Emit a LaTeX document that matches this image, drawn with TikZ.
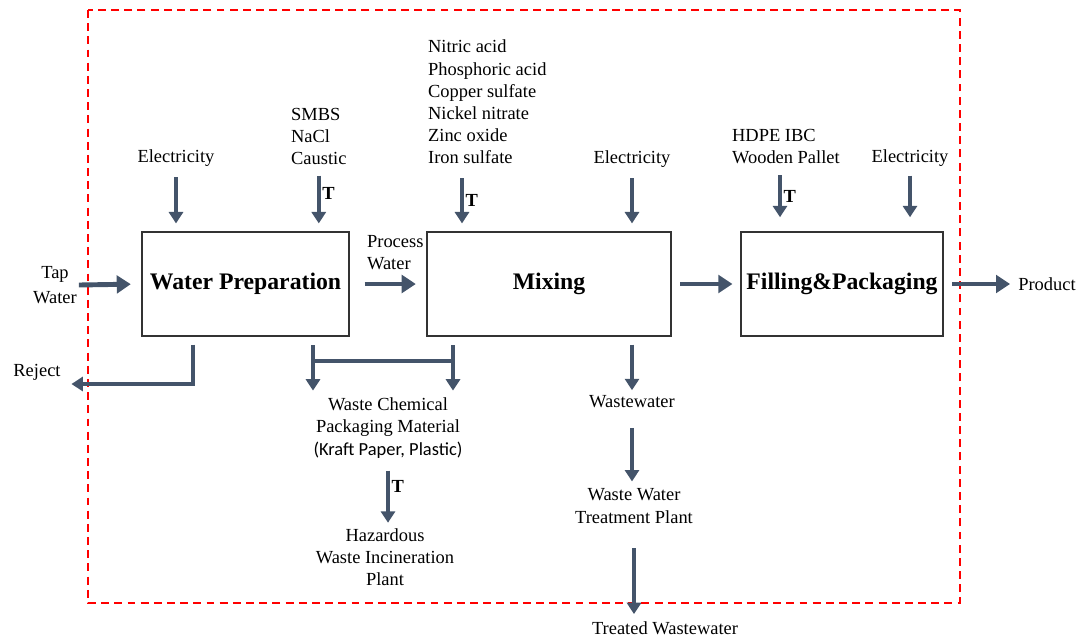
\documentclass[tikz,border=0pt]{standalone}
\usepackage{fontspec}
\setmainfont{Liberation Serif}
\newfontfamily\calfont{Carlito}
\usetikzlibrary{positioning,arrows.meta,calc}
\definecolor{flowgray}{HTML}{44546A}
\definecolor{boundred}{HTML}{FF0000}

\begin{document}
\begin{tikzpicture}[x=0.02cm,y=-0.02cm,font=\fontsize{10.5}{12.6}\selectfont]
% Styles: unit boxes, stream texts and flow arrows
\tikzstyle{unit box}=[draw=black!80,line width=0.8pt,inner sep=1pt,minimum height=2.08cm,font=\bfseries\fontsize{13.5}{16}\selectfont];
\tikzstyle{stream}=[inner sep=1pt,align=center];
\tikzstyle{stream list}=[inner sep=1pt,align=left,anchor=north west];
\tikzstyle{flow}=[draw=flowgray,line width=2pt,-{Triangle[length=6.5pt,width=8pt]}];
\tikzstyle{main flow}=[draw=flowgray,line width=2.8pt,-{Triangle[length=8pt,width=10pt]}];
\tikzstyle{truck}=[right,inner sep=1pt,font=\bfseries\fontsize{10.5}{12}\selectfont];
\useasboundingbox (0,0) rectangle (1081,640);
% System boundary
\draw[boundred,line width=1.1pt,dash pattern=on 4.5pt off 3pt] (88,10) rectangle (960,603);
% The unit processes
\node[unit box,minimum width=4.14cm] (wp) at (245.5,284) {Water Preparation};
\node[unit box,minimum width=4.88cm] (mix) at (549,284) {Mixing};
\node[unit box,minimum width=4.04cm] (fill) at (842,284) {Filling\&Packaging};
% Inputs
\node[stream,align=center,font=\fontsize{10.5}{14}\selectfont] (tap) at (55,285) {Tap\\Water};
\node[stream] (elec1) at (176,158) {Electricity};
\node[stream list] (salts) at (289,106) {SMBS\\NaCl\\Caustic};
\node[stream list] (pwater) at (365,233) {Process\\Water};
\node[stream list] (acids) at (426,38) {Nitric acid\\Phosphoric acid\\Copper sulfate\\Nickel nitrate\\Zinc oxide\\Iron sulfate};
\node[stream] (elec2) at (632,159) {Electricity};
\node[stream list] (pack) at (730,127) {HDPE IBC\\Wooden Pallet};
\node[stream] (elec3) at (910,158) {Electricity};
% Outputs
\node[stream] (product) at (1047,284) {Product};
\node[stream] (reject) at (37,372) {Reject};
\node[stream] (wcp) at (388,428) {Waste Chemical\\Packaging Material\\{\calfont (Kraft Paper, Plastic)}};
\node[stream] (hwip) at (385,557) {Hazardous\\Waste Incineration\\Plant};
\node[stream] (ww) at (632,402) {Wastewater};
\node[stream] (wwtp) at (634,506) {Waste Water\\Treatment Plant};
\node[stream] (tww) at (665,628) {Treated Wastewater};
\coordinate (acidin) at (462,178);
\coordinate (packin) at (780,175);
\coordinate (rejcorner) at (193,384);
\coordinate (barl) at (313,361);
\coordinate (barr) at (453,361);
% Main line
\draw[main flow,shorten >=6pt] (tap.east) -- (wp.west);
\draw[main flow,shorten <=8.5pt,shorten >=6pt] (wp.east) -- (mix.west);
\draw[main flow,shorten <=5pt,shorten >=4.5pt] (mix.east) -- (fill.west);
\draw[main flow,shorten <=5pt,shorten >=3.5pt] (fill.east) -- (product.west);
% Inputs from above
\draw[flow,shorten <=5pt,shorten >=4.5pt] (elec1.south) -- (elec1.south |- wp.north);
\draw[flow,shorten <=5pt,shorten >=4.5pt] (salts.south) -- (salts.south |- wp.north) node[truck,pos=0.42]{T};
\draw[flow,shorten >=4.5pt] (acidin) -- (acidin |- mix.north) node[truck,pos=0.42]{T};
\draw[flow,shorten <=5pt,shorten >=4.5pt] (elec2.south) -- (elec2.south |- mix.north);
\draw[flow,shorten >=8pt] (packin) -- (packin |- fill.north) node[truck,pos=0.38]{T};
\draw[flow,shorten <=4pt,shorten >=8pt] (elec3.south) -- (elec3.south |- fill.north);
% Outputs below
\draw[flow,shorten <=4.5pt,shorten >=5pt] (wp.south -| rejcorner) -- (rejcorner) -- (reject.east |- rejcorner);
\draw[draw=flowgray,line width=2pt] (barl) -- ($(barr)+(2,0)$);
\draw[flow,shorten <=5pt,shorten >=3pt] (wp.south -| barl) -- (barl |- wcp.north);
\draw[flow,shorten <=5pt,shorten >=3pt] (mix.south -| barr) -- (barr |- wcp.north);
\draw[flow,shorten <=6pt,shorten >=2pt] (wcp.south) -- (wcp.south |- hwip.north) node[truck,pos=0.4]{T};
\draw[flow,shorten <=4.5pt,shorten >=2pt] (ww.north |- mix.south) -- (ww.north);
\draw[flow,shorten <=10pt,shorten >=3pt] (ww.south) -- (ww.south |- wwtp.north);
\draw[flow,shorten <=13pt,shorten >=3pt] (wwtp.south) -- (wwtp.south |- tww.north);
\end{tikzpicture}
\end{document}
